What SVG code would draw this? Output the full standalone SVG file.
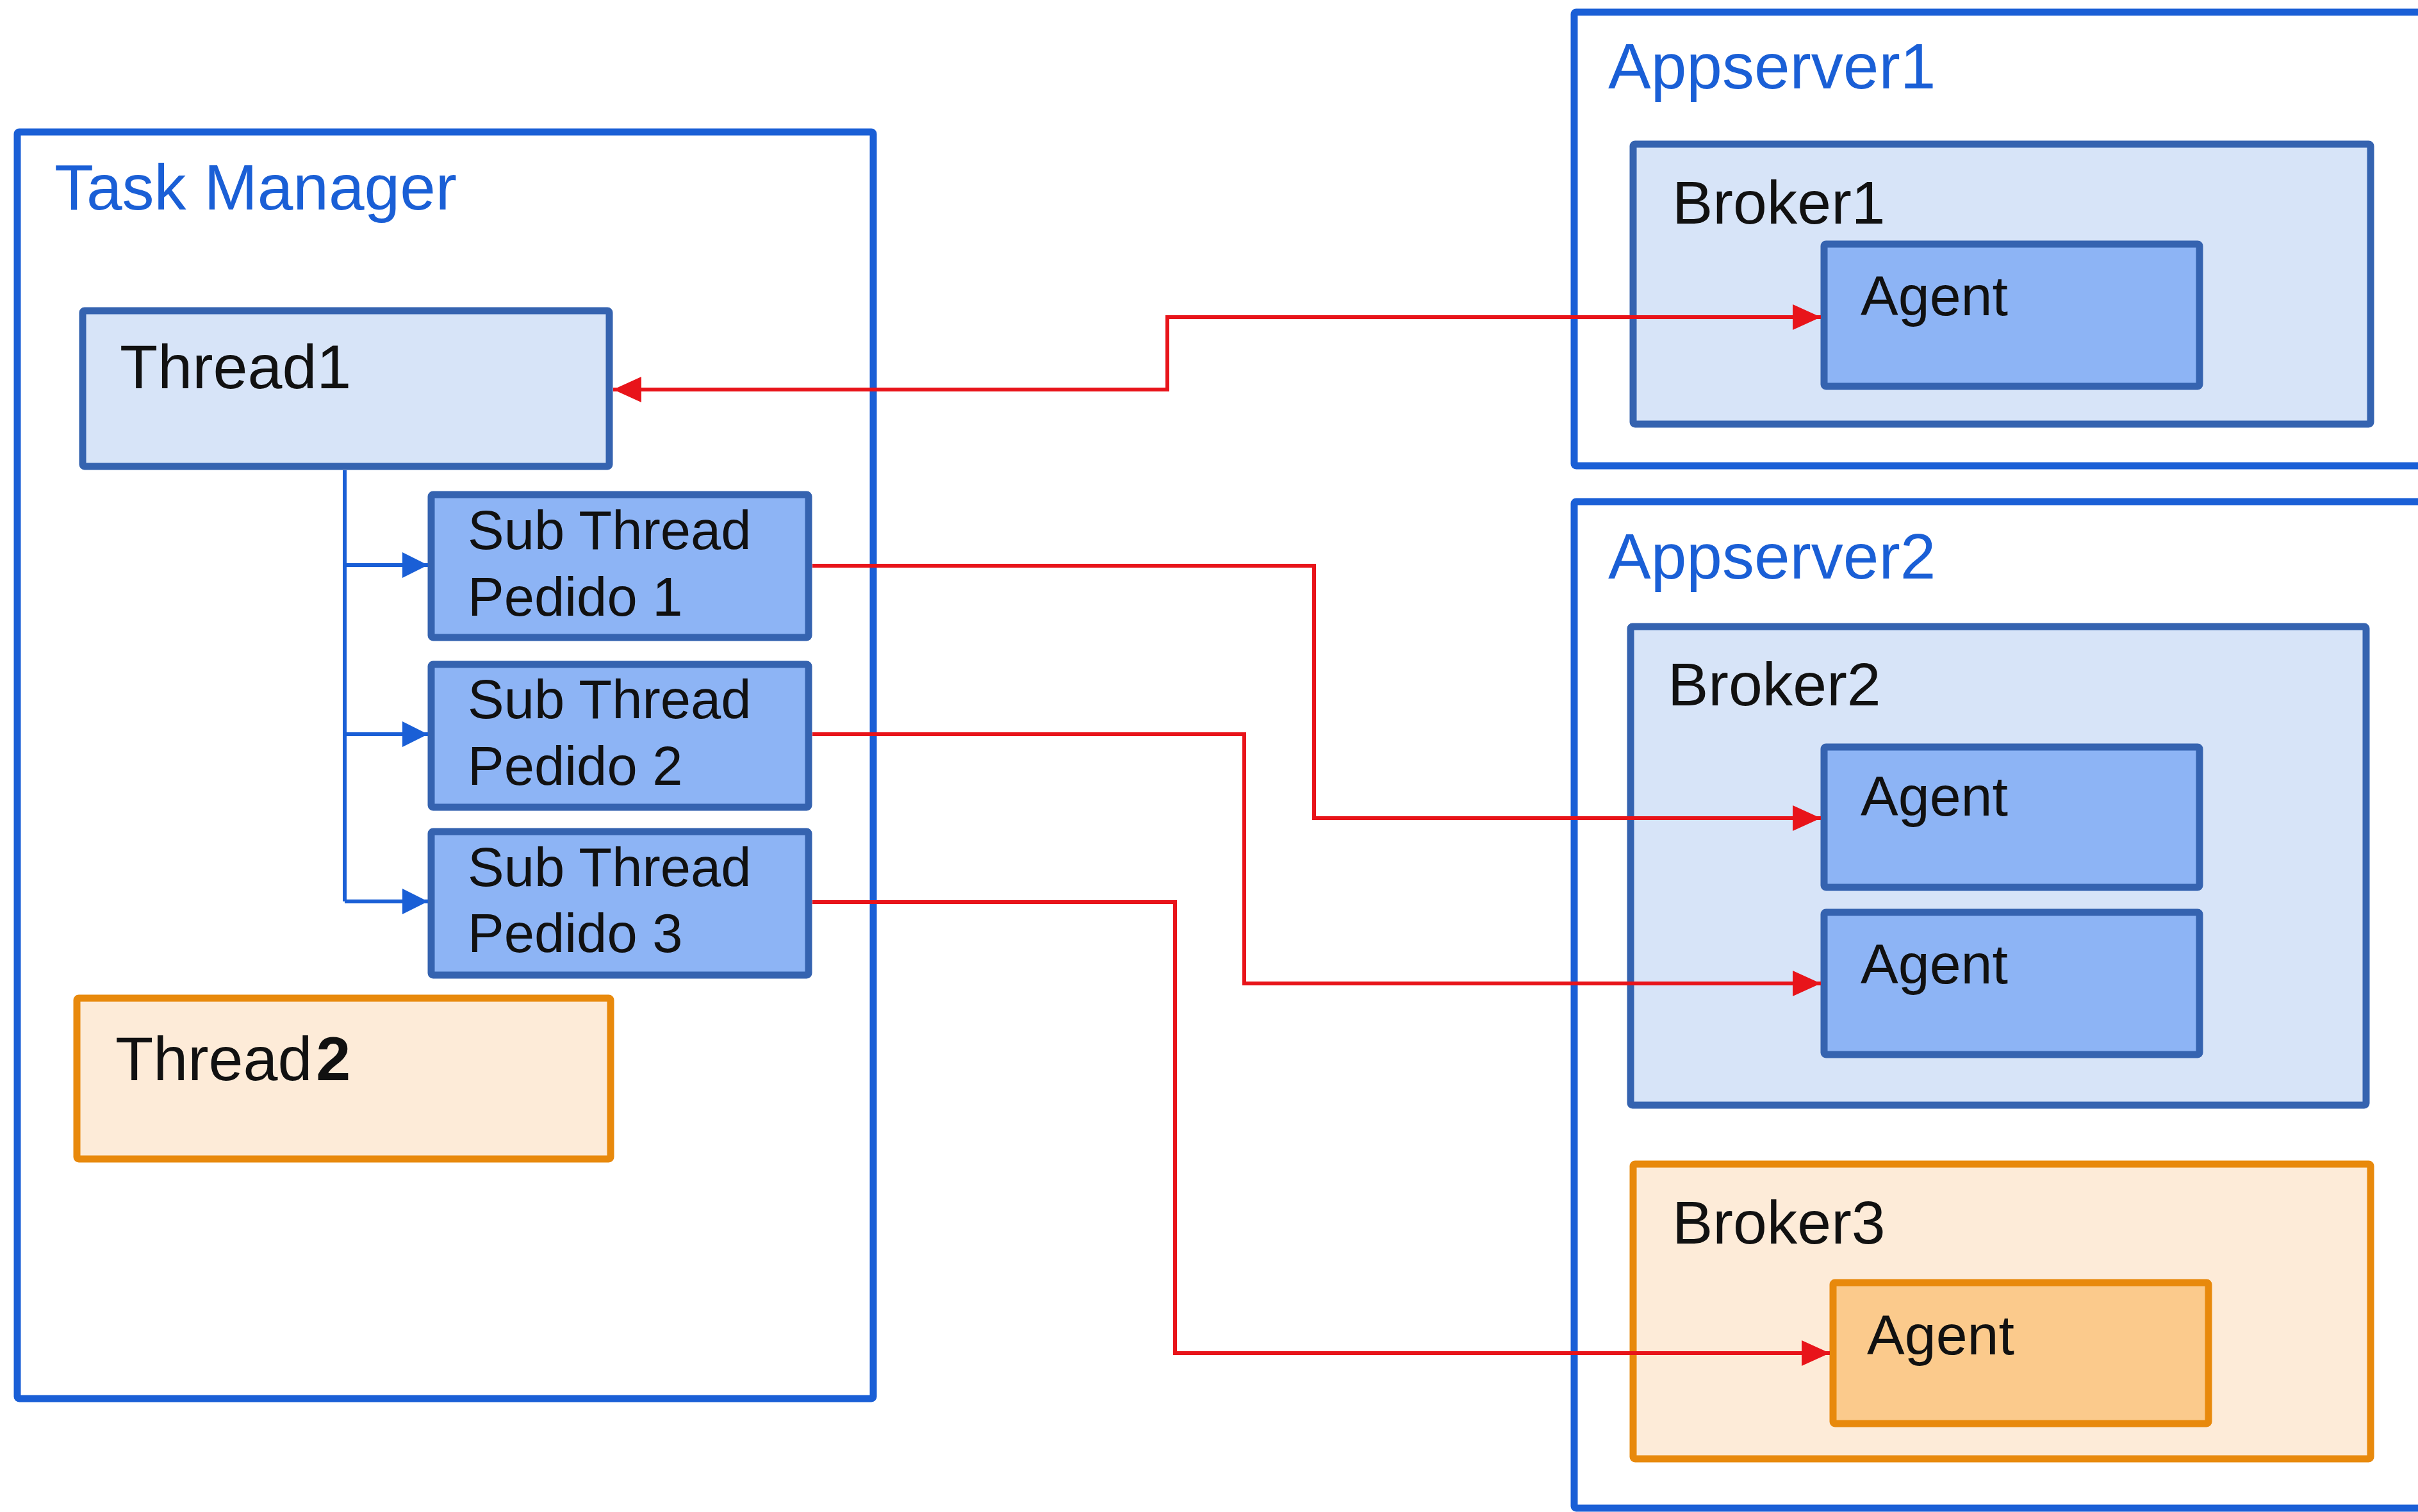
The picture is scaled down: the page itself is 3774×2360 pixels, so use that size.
<svg xmlns="http://www.w3.org/2000/svg" width="3774" height="2360" viewBox="0 0 3774 2360">
<defs>
<style>
text{font-family:"Liberation Sans",Arial,sans-serif;fill:#111}
.title{fill:#1a5fd6;font-size:100px}
.outer{fill:#ffffff;stroke:#1a5fd6;stroke-width:11}
.lb{fill:#d7e4f8;stroke:#3563b0;stroke-width:11}
.mb{fill:#8db4f5;stroke:#3563b0;stroke-width:11}
.lo{fill:#fdebd8;stroke:#e8890c;stroke-width:11}
.mo{fill:#fbca8c;stroke:#e8890c;stroke-width:11}
.red{fill:none;stroke:#e8141a;stroke-width:6}
.blue{fill:none;stroke:#1a5fd6;stroke-width:6}
</style>
<marker id="ar" viewBox="0 0 44 40" refX="44" refY="20" markerWidth="44" markerHeight="40" markerUnits="userSpaceOnUse" orient="auto-start-reverse">
<path d="M0,0 L44,20 L0,40 Z" fill="#e8141a"/>
</marker>
<marker id="ab" viewBox="0 0 40 40" refX="40" refY="20" markerWidth="40" markerHeight="40" markerUnits="userSpaceOnUse" orient="auto">
<path d="M0,0 L40,20 L0,40 Z" fill="#1a5fd6"/>
</marker>
</defs>
<rect width="3774" height="2360" fill="#ffffff"/>

<g id="task-manager">
<rect class="outer" x="27" y="206" width="1336" height="1977" rx="3"/>
<text class="title" x="85" y="327">Task Manager</text>
</g>
<g id="thread1">
<rect class="lb" x="129" y="485" width="822" height="243" rx="3"/>
<text x="187" y="606" font-size="97">Thread1</text>
</g>
<g id="subthread1">
<rect class="mb" x="673" y="772" width="589" height="223" rx="3"/>
<text x="730" y="857" font-size="85">Sub Thread</text>
<text x="730" y="961" font-size="85">Pedido 1</text>
</g>
<g id="subthread2">
<rect class="mb" x="673" y="1037" width="589" height="223" rx="3"/>
<text x="730" y="1121" font-size="85">Sub Thread</text>
<text x="730" y="1225" font-size="85">Pedido 2</text>
</g>
<g id="subthread3">
<rect class="mb" x="673" y="1298" width="589" height="224" rx="3"/>
<text x="730" y="1383" font-size="85">Sub Thread</text>
<text x="730" y="1486" font-size="85">Pedido 3</text>
</g>
<g id="thread2">
<rect class="lo" x="120" y="1558" width="833" height="251" rx="3"/>
<text x="180" y="1686" font-size="97">Thread<tspan font-weight="bold" dx="6">2</tspan></text>
</g>

<g id="appserver1">
<rect class="outer" x="2457" y="19" width="1340" height="708" rx="3"/>
<text class="title" x="2510" y="138" font-size="98">Appserver1</text>
</g>
<g id="broker1">
<rect class="lb" x="2549" y="225" width="1151" height="437" rx="3"/>
<text x="2610" y="349" font-size="95">Broker1</text>
</g>
<g id="agent1">
<rect class="mb" x="2847" y="381" width="586" height="222" rx="3"/>
<text x="2904" y="492" font-size="88">Agent</text>
</g>

<g id="appserver2">
<rect class="outer" x="2457" y="783" width="1340" height="1571" rx="3"/>
<text class="title" x="2510" y="903" font-size="98">Appserver2</text>
</g>
<g id="broker2">
<rect class="lb" x="2545" y="978" width="1148" height="747" rx="3"/>
<text x="2603" y="1101" font-size="95">Broker2</text>
</g>
<g id="agent2a">
<rect class="mb" x="2847" y="1166" width="586" height="219" rx="3"/>
<text x="2904" y="1273" font-size="88">Agent</text>
</g>
<g id="agent2b">
<rect class="mb" x="2847" y="1424" width="586" height="222" rx="3"/>
<text x="2904" y="1535" font-size="88">Agent</text>
</g>
<g id="broker3">
<rect class="lo" x="2549" y="1817" width="1151" height="460" rx="3"/>
<text x="2610" y="1941" font-size="95">Broker3</text>
</g>
<g id="agent3">
<rect class="mo" x="2861" y="2002" width="586" height="220" rx="3"/>
<text x="2914" y="2114" font-size="88">Agent</text>
</g>

<g id="connectors">
<path class="blue" d="M538,734 L538,1407"/>
<path class="blue" d="M538,882 L668,882" marker-end="url(#ab)"/>
<path class="blue" d="M538,1146 L668,1146" marker-end="url(#ab)"/>
<path class="blue" d="M538,1407 L668,1407" marker-end="url(#ab)"/>
<path class="red" d="M957,608 L1822,608 L1822,495 L2842,495" marker-start="url(#ar)" marker-end="url(#ar)"/>
<path class="red" d="M1268,883 L2051,883 L2051,1277 L2842,1277" marker-end="url(#ar)"/>
<path class="red" d="M1268,1146 L1942,1146 L1942,1535 L2842,1535" marker-end="url(#ar)"/>
<path class="red" d="M1268,1408 L1834,1408 L1834,2112 L2856,2112" marker-end="url(#ar)"/>
</g>
</svg>
